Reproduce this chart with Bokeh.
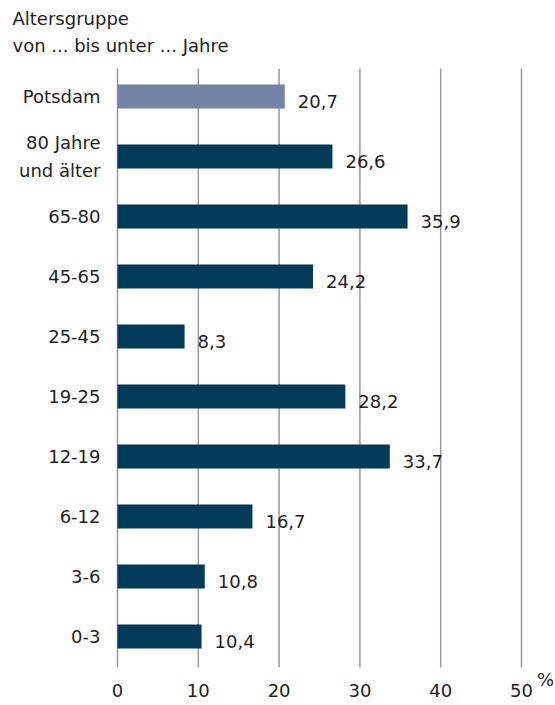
from bokeh.plotting import figure
from bokeh.models import ColumnDataSource, Range1d
from bokeh.core.properties import value
from bokeh.embed import file_html
from bokeh.resources import INLINE

categories = ["Potsdam", "80 Jahre\nund älter", "65-80", "45-65", "25-45",
              "19-25", "12-19", "6-12", "3-6", "0-3"]
values = [20.7, 26.6, 35.9, 24.2, 8.3, 28.2, 33.7, 16.7, 10.8, 10.4]
x_ticks = [0, 10, 20, 30, 40, 50]
title_lines = ["Altersgruppe", "von ... bis unter ...  Jahre"]
unit = "%"

FONT = value("DejaVu Sans")
FS = value("18px")
TXT = "#1e1e1e"
DARK = "#023a58"
LIGHT = "#7283a3"
GRID = "#9a9a9a"

# layout (pixels): x=0 at 117px, 8.08 px per unit; row spacing 60px
W, H = 553, 700
PX_X = 8.08
X0 = 117
ROW = 60.0
Y_TOP_ROW = 96  # pixel center of first row

def dx(px):
    return (px - X0) / PX_X

n = len(categories)
ypos = [n - 1 - i for i in range(n)]

def dy(py):
    return (n - 1) - (py - Y_TOP_ROW) / ROW

colors = [LIGHT] + [DARK] * (n - 1)
val_labels = [f"{v:.1f}".replace(".", ",") for v in values]
tick_labels = [str(t) for t in x_ticks]

src = ColumnDataSource(dict(y=ypos, v=values, c=colors, vl=val_labels,
                            cat=categories,
                            ylab=[y - 5 / ROW for y in ypos]))

p = figure(width=W, height=H, output_backend="svg", toolbar_location=None,
           x_range=Range1d(dx(0), dx(W)), y_range=Range1d(dy(H), dy(0)),
           x_axis_location=None, y_axis_location=None, min_border=0)
p.outline_line_color = None
p.xgrid.visible = False
p.ygrid.visible = False
p.background_fill_color = "white"
p.border_fill_color = "white"

grid_top = dy(68)
grid_bot = dy(667)
p.segment(x0=x_ticks, x1=x_ticks, y0=[grid_bot] * len(x_ticks),
          y1=[grid_top] * len(x_ticks), line_color=GRID, line_width=1.5)

p.hbar(y="y", right="v", left=0, height=0.4, color="c", source=src,
       line_color=None)

# value labels
p.text(x="v", y="ylab", text="vl", source=src, x_offset=13,
       text_baseline="middle", text_align="left",
       text_font=FONT, text_font_size=FS, text_color=TXT)

# category labels
p.text(x=dx(100), y="y", text="cat", source=src,
       text_baseline="middle", text_align="right", text_line_height=1.38,
       text_font=FONT, text_font_size=FS, text_color=TXT)

# x tick labels
p.text(x=x_ticks, y=[dy(690)] * len(x_ticks), text=tick_labels,
       text_baseline="middle", text_align="center",
       text_font=FONT, text_font_size=FS, text_color=TXT)

# unit
p.text(x=[dx(545)], y=[dy(679)], text=[unit],
       text_baseline="middle", text_align="center",
       text_font=FONT, text_font_size=FS, text_color=TXT)

# title
p.text(x=[dx(12)] * 2, y=[dy(18), dy(45)], text=title_lines,
       text_baseline="middle", text_align="left",
       text_font=FONT, text_font_size=FS, text_color=TXT)

open("out.html", "w").write(file_html(p, INLINE))
